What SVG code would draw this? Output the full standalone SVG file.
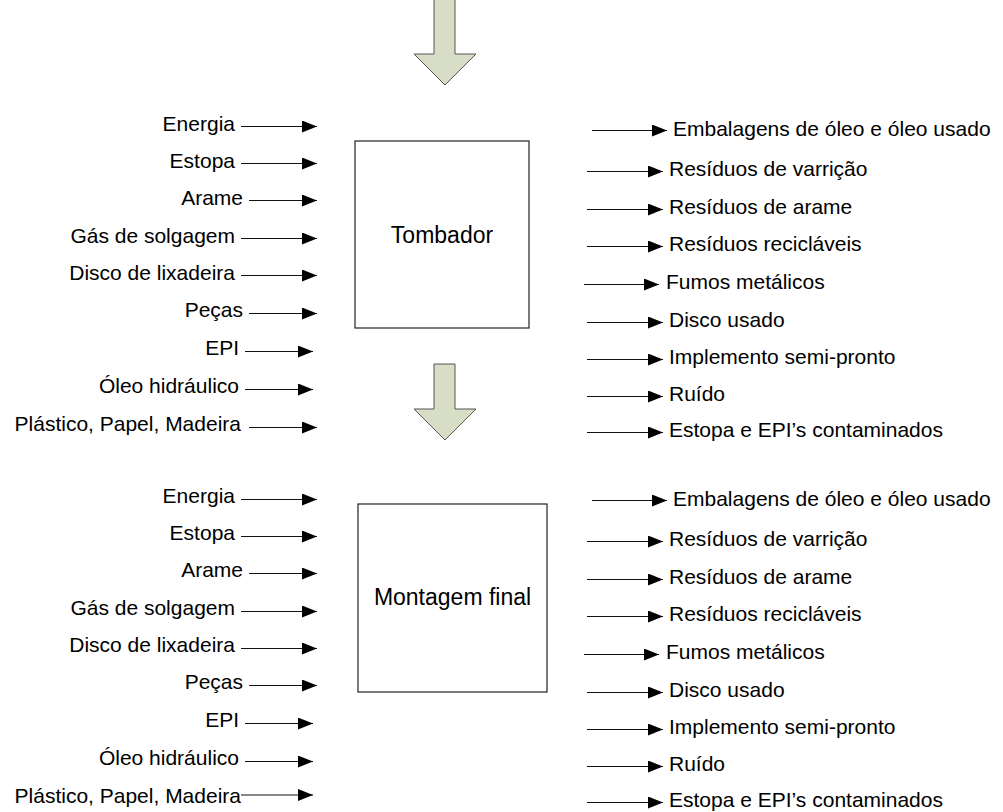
<svg xmlns="http://www.w3.org/2000/svg" width="1003" height="812" viewBox="0 0 1003 812">
  <style>
    text { font-family: "Liberation Sans", Arial, sans-serif; font-size: 21px; fill: #000; }
    .in { text-anchor: end; }
    .title { font-size: 23px; text-anchor: middle; }
    .box { fill: #fff; stroke: #222; stroke-width: 1.2; }
    .flow { fill: #d8ddc6; stroke: #555; stroke-width: 1; }
    .conn line { stroke: #111; stroke-width: 1.2; marker-end: url(#head); }
  </style>
  <defs>
    <marker id="head" markerUnits="userSpaceOnUse" markerWidth="15" markerHeight="12" refX="15" refY="6" orient="auto">
      <path d="M0,0 L15,6 L0,12 Z" fill="#000"/>
    </marker>
  </defs>
  <rect width="1003" height="812" fill="#fff"/>

  <!-- process flow arrows -->
  <g id="flow-in">
    <path class="flow" d="M434,-1 H455 V54 H476 L445,85 L414,54 H434 Z"/>
  </g>
  <g id="flow-mid">
    <path class="flow" d="M434,364 H455 V409 H476 L445,440 L414,409 H434 Z"/>
  </g>

  <!-- process boxes -->
  <g id="tombador">
    <rect class="box" x="355" y="141" width="174" height="187"/>
    <text class="title" x="442" y="243">Tombador</text>
  </g>
  <g id="montagem-final">
    <rect class="box" x="358" y="504" width="189" height="188"/>
    <text class="title" x="452.5" y="605">Montagem final</text>
  </g>

  <!-- inputs, Tombador -->
  <g id="inputs-tombador">
    <text class="in" x="235" y="131">Energia</text>
    <text class="in" x="235" y="168">Estopa</text>
    <text class="in" x="243" y="205">Arame</text>
    <text class="in" x="235" y="243">Gás de solgagem</text>
    <text class="in" x="235" y="280">Disco de lixadeira</text>
    <text class="in" x="243" y="317">Peças</text>
    <text class="in" x="239" y="355">EPI</text>
    <text class="in" x="239" y="393">Óleo hidráulico</text>
    <text class="in" x="241" y="431">Plástico, Papel, Madeira</text>
  </g>

  <!-- outputs, Tombador -->
  <g id="outputs-tombador">
    <text x="673" y="136">Embalagens de óleo e óleo usado</text>
    <text x="669" y="176">Resíduos de varrição</text>
    <text x="669" y="214">Resíduos de arame</text>
    <text x="669" y="251">Resíduos recicláveis</text>
    <text x="666" y="289">Fumos metálicos</text>
    <text x="669" y="327">Disco usado</text>
    <text x="669" y="364">Implemento semi-pronto</text>
    <text x="669" y="401">Ruído</text>
    <text x="669" y="437">Estopa e EPI’s contaminados</text>
  </g>

  <!-- inputs, Montagem final -->
  <g id="inputs-montagem">
    <text class="in" x="235" y="503">Energia</text>
    <text class="in" x="235" y="540">Estopa</text>
    <text class="in" x="243" y="577">Arame</text>
    <text class="in" x="235" y="615">Gás de solgagem</text>
    <text class="in" x="235" y="652">Disco de lixadeira</text>
    <text class="in" x="243" y="689">Peças</text>
    <text class="in" x="239" y="727">EPI</text>
    <text class="in" x="239" y="765">Óleo hidráulico</text>
    <text class="in" x="241" y="803">Plástico, Papel, Madeira</text>
  </g>

  <!-- outputs, Montagem final -->
  <g id="outputs-montagem">
    <text x="673" y="506">Embalagens de óleo e óleo usado</text>
    <text x="669" y="546">Resíduos de varrição</text>
    <text x="669" y="584">Resíduos de arame</text>
    <text x="669" y="621">Resíduos recicláveis</text>
    <text x="666" y="659">Fumos metálicos</text>
    <text x="669" y="697">Disco usado</text>
    <text x="669" y="734">Implemento semi-pronto</text>
    <text x="669" y="771">Ruído</text>
    <text x="669" y="807">Estopa e EPI’s contaminados</text>
  </g>

  <!-- connectors -->
  <g id="connectors" class="conn">
    <!-- Tombador inputs -->
    <line x1="241" y1="126.5" x2="317" y2="126.5"/>
    <line x1="241" y1="163.5" x2="317" y2="163.5"/>
    <line x1="249" y1="200.5" x2="317" y2="200.5"/>
    <line x1="241" y1="238.5" x2="317" y2="238.5"/>
    <line x1="241" y1="275.5" x2="317" y2="275.5"/>
    <line x1="249" y1="313.5" x2="317" y2="313.5"/>
    <line x1="245" y1="351.5" x2="313" y2="351.5"/>
    <line x1="245" y1="389.5" x2="313" y2="389.5"/>
    <line x1="249" y1="427.5" x2="317" y2="427.5"/>
    <!-- Tombador outputs -->
    <line x1="592" y1="130.5" x2="667" y2="130.5"/>
    <line x1="587" y1="171.5" x2="663" y2="171.5"/>
    <line x1="587" y1="209.5" x2="663" y2="209.5"/>
    <line x1="587" y1="246.5" x2="663" y2="246.5"/>
    <line x1="584" y1="284.5" x2="659" y2="284.5"/>
    <line x1="587" y1="322.5" x2="663" y2="322.5"/>
    <line x1="587" y1="359.5" x2="663" y2="359.5"/>
    <line x1="587" y1="396.5" x2="663" y2="396.5"/>
    <line x1="587" y1="432.5" x2="663" y2="432.5"/>
    <!-- Montagem final inputs -->
    <line x1="241" y1="499.5" x2="317" y2="499.5"/>
    <line x1="241" y1="536.5" x2="317" y2="536.5"/>
    <line x1="249" y1="573.5" x2="317" y2="573.5"/>
    <line x1="241" y1="611.5" x2="317" y2="611.5"/>
    <line x1="241" y1="648.5" x2="317" y2="648.5"/>
    <line x1="249" y1="685.5" x2="317" y2="685.5"/>
    <line x1="245" y1="723.5" x2="313" y2="723.5"/>
    <line x1="245" y1="761.5" x2="313" y2="761.5"/>
    <line x1="241" y1="795" x2="313" y2="795"/>
    <!-- Montagem final outputs -->
    <line x1="592" y1="500.5" x2="667" y2="500.5"/>
    <line x1="587" y1="541.5" x2="663" y2="541.5"/>
    <line x1="587" y1="579.5" x2="663" y2="579.5"/>
    <line x1="587" y1="616.5" x2="663" y2="616.5"/>
    <line x1="584" y1="654.5" x2="659" y2="654.5"/>
    <line x1="587" y1="692.5" x2="663" y2="692.5"/>
    <line x1="587" y1="729.5" x2="663" y2="729.5"/>
    <line x1="587" y1="766.5" x2="663" y2="766.5"/>
    <line x1="587" y1="802.5" x2="663" y2="802.5"/>
  </g>
</svg>
